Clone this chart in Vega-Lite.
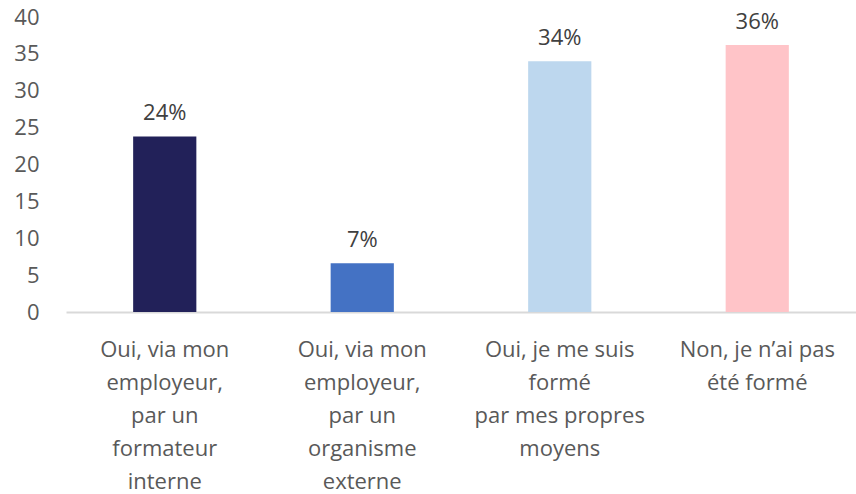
{
  "$schema": "https://vega.github.io/schema/vega-lite/v6.json",
  "autosize": "none",
  "width": 790,
  "height": 295,
  "padding": {"left": 66, "top": 17, "right": 0, "bottom": 182},
  "background": "white",
  "config": {"view": {"stroke": null}, "font": "Open Sans"},
  "data": {
    "values": [
      {"reponse": "Oui, via mon|employeur,|par un|formateur|interne", "valeur": 23.8, "etiquette": "24%", "couleur": "#222159"},
      {"reponse": "Oui, via mon|employeur,|par un|organisme|externe", "valeur": 6.6, "etiquette": "7%", "couleur": "#4472C4"},
      {"reponse": "Oui, je me suis|formé|par mes propres|moyens", "valeur": 34.0, "etiquette": "34%", "couleur": "#BDD7EE"},
      {"reponse": "Non, je n’ai pas|été formé", "valeur": 36.2, "etiquette": "36%", "couleur": "#FFC4C8"}
    ]
  },
  "encoding": {
    "x": {
      "field": "reponse", "type": "nominal", "sort": null,
      "scale": {"paddingInner": 0.68, "paddingOuter": 0.34},
      "axis": {
        "title": null, "labelAngle": 0, "ticks": false,
        "domainColor": "#D9D9D9", "domainWidth": 2,
        "labelExpr": "split(datum.label, '|')",
        "labelFontSize": 22, "labelColor": "#595959",
        "labelLineHeight": 33, "labelPadding": 27, "labelLimit": 300
      }
    },
    "y": {
      "field": "valeur", "type": "quantitative",
      "scale": {"domain": [0, 40]},
      "axis": {
        "title": null, "grid": false, "domain": false, "ticks": false,
        "values": [0, 5, 10, 15, 20, 25, 30, 35, 40],
        "labelFontSize": 22, "labelColor": "#595959", "labelPadding": 27
      }
    }
  },
  "layer": [
    {"mark": {"type": "bar"}, "encoding": {"color": {"field": "couleur", "type": "nominal", "scale": null}}},
    {"mark": {"type": "text", "baseline": "alphabetic", "dy": -16, "fontSize": 22, "color": "#404040"},
     "encoding": {"text": {"field": "etiquette"}}}
  ]
}
